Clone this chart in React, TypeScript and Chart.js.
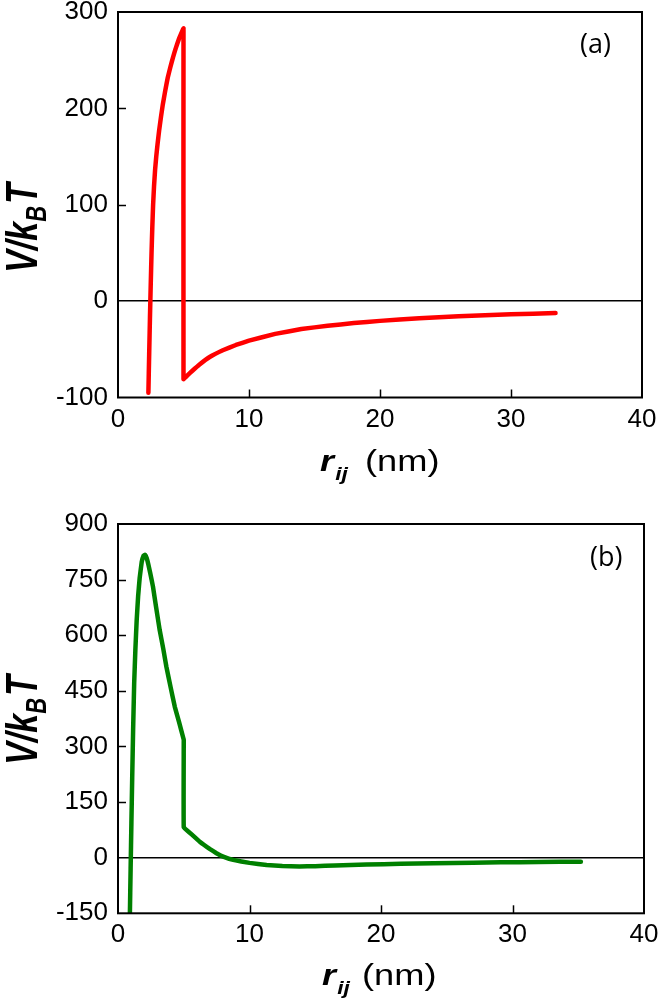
import React, { useEffect, useRef } from 'react';
import { Chart, registerables } from 'chart.js';

Chart.register(...registerables);

// ---------- Data ----------
const xTicks = [0, 10, 20, 30, 40];
const yTicksA = [-100, 0, 100, 200, 300];
const yTicksB = [-150, 0, 150, 300, 450, 600, 750, 900];

// Panel (a): red curve
const rA = [2.32, 2.38, 2.44, 2.5, 2.56, 2.62, 2.68, 2.75, 2.83, 2.92, 3.02, 3.14, 3.28, 3.42, 3.6, 3.8, 4.0, 4.2,
  4.4, 4.65, 4.96, 5.0,
  5.0, 5.3, 5.7, 6.2, 7.0, 8.0, 9.0, 10, 12, 14, 16, 18, 20, 23, 26, 30, 33.4];
const vA = [-95, -55, -17, 18, 50, 77, 100, 119, 136, 150, 163, 177, 191, 204, 218, 232, 243, 253,
  262, 272, 282, 283,
  -81, -77, -72, -66, -58, -51, -45.5, -41, -34, -29, -25.5, -22.8, -20.5, -17.8, -15.8, -13.7, -12.3];

// Panel (b): green curve
const rB = [0.9, 0.96, 1.02, 1.08, 1.15, 1.23, 1.32, 1.42, 1.53, 1.65, 1.8, 1.95, 2.05, 2.18, 2.3, 2.45, 2.66,
  2.9, 3.17, 3.45, 3.68, 4.0, 4.32, 4.65, 4.97, 5.0,
  5.0, 5.5, 6.22, 7.0, 7.49, 8.0, 8.76, 10, 11.3, 12.5, 13.8, 15, 16.5, 18.9, 21.5, 24, 27, 29.1, 32, 35.2];
const vB = [-160, -30, 95, 215, 345, 470, 560, 640, 705, 755, 797, 815, 817, 808, 792, 768, 731,
  675, 614, 562, 515, 460, 407, 365, 322, 318,
  82, 66, 43, 23, 12, 3, -6, -14, -20, -22.5, -23.5, -23, -21, -18.5, -16.5, -15, -13.5, -12.5, -11.5, -10.8];

const TICK_FONT = 'Liberation Sans, Arial, sans-serif';

type Decor = {
  label: string;
  labelX: number;
  labelY: number;
  xt: { x: number; y: number; nmX: number };
  yt: { x: number; y: number };
};

function decorPlugin(d: Decor) {
  return {
    id: 'decor',
    afterDraw(chart: any) {
      const { ctx, chartArea: a, scales } = chart;
      ctx.save();
      // inward tick marks
      ctx.strokeStyle = '#000';
      ctx.lineWidth = 1.5;
      const xs = scales.x;
      xs.ticks.forEach((t: any) => {
        if (t.value <= xs.min || t.value >= xs.max) return;
        const px = Math.round(xs.getPixelForValue(t.value)) + 0.5;
        ctx.beginPath();
        ctx.moveTo(px, a.bottom);
        ctx.lineTo(px, a.bottom - 8);
        ctx.stroke();
      });
      const ys = scales.y;
      ys.ticks.forEach((t: any) => {
        if (t.value <= ys.min || t.value >= ys.max || t.value === 0) return;
        const py = Math.round(ys.getPixelForValue(t.value)) + 0.5;
        ctx.beginPath();
        ctx.moveTo(a.left, py);
        ctx.lineTo(a.left + 8, py);
        ctx.stroke();
      });
      // frame
      ctx.lineWidth = 2;
      ctx.strokeRect(a.left, a.top, a.right - a.left, a.bottom - a.top);

      // panel label
      ctx.fillStyle = '#000';
      ctx.font = '27px "Open Sans", sans-serif';
      ctx.textAlign = 'left';
      ctx.textBaseline = 'alphabetic';
      ctx.fillText(d.label, d.labelX, d.labelY);

      // x title: r_ij (nm) (slightly widened glyphs)
      ctx.save();
      ctx.translate(d.xt.x, d.xt.y);
      ctx.scale(1.2, 1);
      ctx.font = `italic bold 30px ${TICK_FONT}`;
      ctx.fillText('r', 0, 0);
      const rw = ctx.measureText('r').width;
      ctx.font = `italic bold 19px ${TICK_FONT}`;
      ctx.fillText('ij', rw + 1, 9);
      ctx.restore();
      ctx.save();
      ctx.translate(d.xt.nmX, d.xt.y);
      ctx.scale(1.25, 1);
      ctx.font = `29px ${TICK_FONT}`;
      ctx.fillText('(nm)', 0, 0);
      ctx.restore();

      // y title: V/k_B T (rotated)
      ctx.save();
      ctx.translate(d.yt.x, d.yt.y);
      ctx.rotate(-Math.PI / 2);
      ctx.scale(1, 1.3);
      const big = `italic bold 34px ${TICK_FONT}`;
      const small = `italic bold 22px ${TICK_FONT}`;
      ctx.font = big;
      const w1 = ctx.measureText('V/k').width;
      const w3 = ctx.measureText('T').width;
      ctx.font = small;
      const w2 = ctx.measureText('B').width;
      const total = w1 + w2 + w3 + 2;
      let cx = -total / 2;
      ctx.font = big;
      ctx.fillText('V/k', cx, 0);
      cx += w1;
      ctx.font = small;
      ctx.fillText('B', cx, 7);
      cx += w2 + 2;
      ctx.font = big;
      ctx.fillText('T', cx, 0);
      ctx.restore();
      ctx.restore();
    },
  };
}

type PanelProps = {
  r: number[];
  v: number[];
  color: string;
  yTicks: number[];
  height: number;
  top: number;
  padTop: number;
  padRight: number;
  yWidth: number;
  xHeight: number;
  decor: Decor;
};

function Panel(p: PanelProps) {
  const ref = useRef<HTMLCanvasElement | null>(null);
  useEffect(() => {
    if (!ref.current) return;
    const points = p.r.map((x, i) => ({ x, y: p.v[i] }));
    const chart = new Chart(ref.current, {
      type: 'line',
      data: {
        datasets: [
          {
            data: points,
            borderColor: p.color,
            borderWidth: 4.5,
            pointRadius: 0,
            tension: 0.05,
            fill: false,
            borderJoinStyle: 'round',
            borderCapStyle: 'round',
          } as any,
        ],
      },
      options: {
        animation: false,
        responsive: false,
        parsing: false as any,
        layout: { padding: { top: p.padTop, right: p.padRight, left: 0, bottom: 0 } },
        plugins: { legend: { display: false }, tooltip: { enabled: false } },
        scales: {
          x: {
            type: 'linear',
            min: xTicks[0],
            max: xTicks[xTicks.length - 1],
            afterBuildTicks: (s: any) => {
              s.ticks = xTicks.map((value) => ({ value }));
            },
            afterFit: (s: any) => {
              s.height = p.xHeight;
              s.paddingLeft = 0;
              s.paddingRight = 0;
              s.paddingTop = 0;
              s.paddingBottom = 0;
            },
            ticks: {
              font: { family: TICK_FONT, size: 26, lineHeight: 1 },
              color: '#000',
              padding: 9,
              maxRotation: 0,
            },
            grid: { drawOnChartArea: false, drawTicks: false },
            border: { display: false },
          },
          y: {
            type: 'linear',
            min: p.yTicks[0],
            max: p.yTicks[p.yTicks.length - 1],
            afterBuildTicks: (s: any) => {
              s.ticks = p.yTicks.map((value) => ({ value }));
            },
            afterFit: (s: any) => {
              s.width = p.yWidth;
              s.paddingLeft = 0;
              s.paddingRight = 0;
              s.paddingTop = 0;
              s.paddingBottom = 0;
            },
            ticks: {
              font: { family: TICK_FONT, size: 26, lineHeight: 1 },
              color: '#000',
              padding: 10,
            },
            grid: {
              drawOnChartArea: true,
              drawTicks: false,
              lineWidth: 1.5,
              color: (c: any) => (c.tick && c.tick.value === 0 ? '#000' : 'rgba(0,0,0,0)'),
            },
            border: { display: false },
          },
        },
      },
      plugins: [decorPlugin(p.decor)],
    });
    return () => chart.destroy();
  }, []);
  return (
    <canvas
      ref={ref}
      width={658}
      height={p.height}
      style={{ position: 'absolute', left: 0, top: p.top, width: 658, height: p.height, display: 'block' }}
    />
  );
}

export default function App() {
  return (
    <div style={{ position: 'absolute', left: 0, top: 0, width: 658, height: 1000, background: '#fff' }}>
      <Panel
        r={rA}
        v={vA}
        color="#ff0000"
        yTicks={yTicksA}
        height={490}
        top={0}
        padTop={12}
        padRight={16}
        yWidth={118}
        xHeight={92.5}
        decor={{
          label: '(a)',
          labelX: 580,
          labelY: 53,
          xt: { x: 320, y: 471, nmX: 365 },
          yt: { x: 37, y: 228 },
        }}
      />
      <Panel
        r={rB}
        v={vB}
        color="#008000"
        yTicks={yTicksB}
        height={510}
        top={490}
        padTop={34}
        padRight={14}
        yWidth={118}
        xHeight={86.7}
        decor={{
          label: '(b)',
          labelX: 590,
          labelY: 76,
          xt: { x: 322, y: 495, nmX: 362 },
          yt: { x: 37, y: 230 },
        }}
      />
    </div>
  );
}
